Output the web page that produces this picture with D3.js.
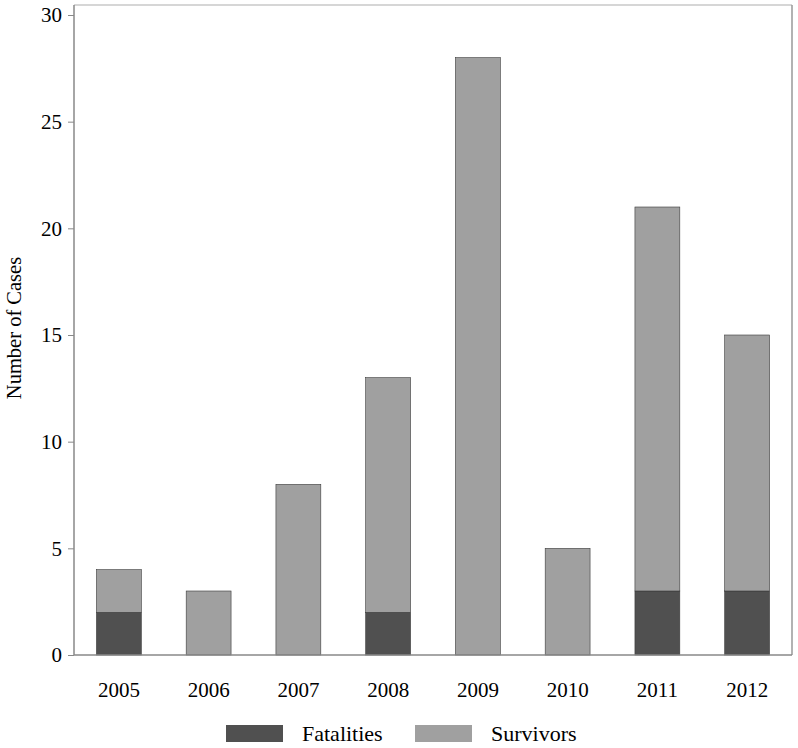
<!DOCTYPE html>
<html>
<head>
<meta charset="utf-8">
<script src="https://cdn.jsdelivr.net/npm/d3@7"></script>
<style>
  body { margin: 0; background: #fff; }
  text { font-family: "Liberation Serif", "Times New Roman", serif; }
</style>
</head>
<body>
<div id="viz_container"></div>
<script>
// Data
const years = ["2005", "2006", "2007", "2008", "2009", "2010", "2011", "2012"];
const fatalities = [2, 0, 0, 2, 0, 0, 3, 3];
const survivors = [2, 3, 8, 11, 28, 5, 18, 12];
const yTicks = [0, 5, 10, 15, 20, 25, 30];
const seriesNames = ["Fatalities", "Survivors"];

const rows = years.map((y, i) => ({ year: y, Fatalities: fatalities[i], Survivors: survivors[i] }));

const W = 798, H = 748;
const margin = { top: 5, right: 6, bottom: 93, left: 74 };
const width = W - margin.left - margin.right;
const height = H - margin.top - margin.bottom;

const svg = d3.select("#viz_container")
  .append("svg")
    .attr("width", W)
    .attr("height", H);

const g = svg.append("g")
    .attr("transform", `translate(${margin.left},${margin.top})`);

const xScale = d3.scaleBand()
    .domain(years)
    .range([0, width])
    .paddingInner(0.5)
    .paddingOuter(0.25);

const yScale = d3.scaleLinear()
    .domain([0, 30])
    .range([height, 10]);

const color = d3.scaleOrdinal()
    .domain(seriesNames)
    .range(["#505050", "#a0a0a0"]);

// frame
g.append("line").attr("x1", 0).attr("x2", width).attr("y1", 0).attr("y2", 0)
    .attr("stroke", "#c8c8c8").attr("stroke-width", 1.5);
g.append("line").attr("x1", width).attr("x2", width).attr("y1", 0).attr("y2", height)
    .attr("stroke", "#999").attr("stroke-width", 1.5);

// stacked bars
const stacked = d3.stack().keys(seriesNames)(rows);
g.append("g")
  .selectAll("g")
  .data(stacked)
  .join("g")
    .attr("fill", d => color(d.key))
  .selectAll("rect")
  .data(d => d.filter(p => p[1] > p[0]))
  .join("rect")
    .attr("x", d => xScale(d.data.year))
    .attr("y", d => yScale(d[1]))
    .attr("width", xScale.bandwidth())
    .attr("height", d => yScale(d[0]) - yScale(d[1]))
    .attr("stroke", "#3a3a3a")
    .attr("stroke-width", 0.6);

// Y axis
const yAxis = g.append("g")
    .call(d3.axisLeft(yScale).tickValues(yTicks).tickSize(6).tickPadding(6).tickSizeOuter(0));
yAxis.select(".domain").attr("stroke", "#888").attr("stroke-width", 1.5)
    .attr("d", `M0,0V${height}`);
yAxis.selectAll(".tick line").attr("stroke", "#888");
yAxis.selectAll(".tick text").attr("fill", "#000")
    .style("font-size", "21px").style("font-family", "'Liberation Serif', serif");

// X axis
const xAxis = g.append("g")
    .attr("transform", `translate(0,${height})`)
    .call(d3.axisBottom(xScale).tickSize(0).tickPadding(27));
xAxis.select(".domain").attr("stroke", "#888").attr("stroke-width", 1.5)
    .attr("d", `M0,0H${width}`);
xAxis.selectAll(".tick text").attr("fill", "#000")
    .style("font-size", "21px").style("font-family", "'Liberation Serif', serif");

// Y axis label
svg.append("text")
    .attr("transform", "rotate(-90)")
    .attr("x", -328)
    .attr("y", 21)
    .attr("text-anchor", "middle")
    .style("font-size", "20.5px")
    .text("Number of Cases");

// legend
const legendX = [226, 415];
const legend = svg.append("g").selectAll("g")
  .data(seriesNames)
  .join("g")
    .attr("transform", (d, i) => `translate(${legendX[i]},725)`);
legend.append("rect")
    .attr("width", 57).attr("height", 17)
    .attr("fill", d => color(d));
legend.append("text")
    .attr("x", 76).attr("y", 16)
    .style("font-size", "22px")
    .text(d => d);
</script>
</body>
</html>
